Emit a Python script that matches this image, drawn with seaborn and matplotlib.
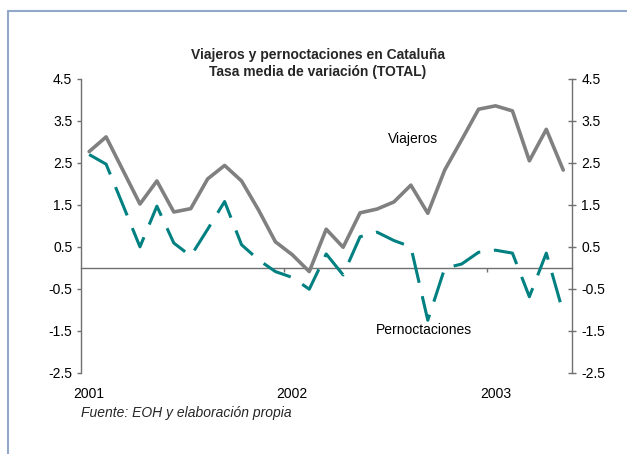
import numpy as np
import pandas as pd
import matplotlib
matplotlib.use("Agg")
import matplotlib.pyplot as plt
from matplotlib.lines import Line2D
import seaborn as sns

# ---- data (monthly, Jan 2001 .. May 2003) ----
months = [str(p) for p in pd.period_range("2001-01", "2003-05", freq="M")]
viajeros = [2.77, 3.12, 2.32, 1.52, 2.07, 1.33, 1.41, 2.12, 2.44, 2.07, 1.38, 0.62,
            0.31, -0.09, 0.92, 0.49, 1.31, 1.40, 1.57, 1.97, 1.30, 2.33, 3.05, 3.78,
            3.86, 3.74, 2.55, 3.30, 2.33]
pernoctaciones = [2.70, 2.47, 1.49, 0.50, 1.47, 0.59, 0.28, 0.92, 1.58, 0.55, 0.19, -0.09,
                  -0.23, -0.51, 0.33, -0.17, 0.74, 0.85, 0.65, 0.50, -1.25, -0.01, 0.09, 0.37,
                  0.42, 0.35, -0.69, 0.35, -1.07]
year_labels = ["2001", "2002", "2003"]
yticks = [-2.5, -1.5, -0.5, 0.5, 1.5, 2.5, 3.5, 4.5]
title = "Viajeros y pernoctaciones en Cataluña\nTasa media de variación (TOTAL)"
source = "Fuente: EOH y elaboración propia"

df = pd.DataFrame({"month": months, "pos": np.arange(len(months)),
                   "Viajeros": viajeros, "Pernoctaciones": pernoctaciones})

sns.set_theme(style="white")
plt.rcParams["font.family"] = ["Liberation Sans", "DejaVu Sans"]
FS = 10

W, H = 627, 454
fig = plt.figure(figsize=(W / 100, H / 100), dpi=100)
fig.patch.set_facecolor("white")

ax = fig.add_axes([80.7 / W, 1 - 372.7 / H, (571.7 - 80.7) / W, (372.7 - 79) / H])
ax.set_facecolor("white")

GRAY = "#808080"
TEAL = "#008080"
AXC = "#707070"

sns.lineplot(data=df, x="pos", y="Viajeros", ax=ax, color=GRAY, lw=2.6)
sns.lineplot(data=df, x="pos", y="Pernoctaciones", ax=ax, color=TEAL, lw=2.2,
             dashes=False)
ax.lines[-1].set_dashes((10, 4.5))

ymin, ymax = -2.5, 4.5
ax.set_xlim(-0.5, len(months) - 0.5)
ax.set_ylim(ymin, ymax)
ax.set_xlabel("")
ax.set_ylabel("")

# left axis
ax.set_yticks(yticks)
ax.set_yticklabels([f"{v:.1f}" for v in yticks], fontsize=FS, color="#000000")
ax.tick_params(axis="y", direction="out", length=3, width=1, color=AXC, pad=3, left=True)
for s in ["top", "right", "bottom"]:
    ax.spines[s].set_visible(False)
ax.spines["left"].set_color(AXC)
ax.spines["left"].set_linewidth(1)

# year labels at January points
jan_idx = [months.index(y + "-01") for y in year_labels]
ax.set_xticks(jan_idx)
ax.set_xticklabels(year_labels, fontsize=FS, color="#000000")
ax.tick_params(axis="x", length=0, pad=10, bottom=True)

# zero line as a secondary axis at y=0
frac0 = (0 - ymin) / (ymax - ymin)
sec = ax.secondary_xaxis(frac0)
sec.spines["bottom"].set_color(AXC)
sec.spines["bottom"].set_linewidth(1)
sec.set_xticks([j - 0.5 for j in jan_idx[1:]])
sec.set_xticklabels([])
sec.tick_params(axis="x", direction="out", length=3, width=1, color=AXC)

# right axis
ax2 = ax.twinx()
ax2.set_ylim(ymin, ymax)
ax2.set_yticks(yticks)
ax2.set_yticklabels([f"{v:.1f}" for v in yticks], fontsize=FS, color="#000000")
ax2.tick_params(axis="y", direction="inout", length=6, width=1, color=AXC, pad=4, right=True)
for s in ["top", "left", "bottom"]:
    ax2.spines[s].set_visible(False)
ax2.spines["right"].set_color(AXC)
ax2.spines["right"].set_linewidth(1)
ax2.grid(False)
ax.grid(False)

# series labels
ax.text(19.1, 3.06, "Viajeros", fontsize=FS, ha="center", va="center", color="#000000")
ax.text(19.76, -1.48, "Pernoctaciones", fontsize=FS, ha="center", va="center", color="#000000")

# title and source
fig.text(318 / W, 1 - 63.3 / H, title, fontsize=FS, fontweight="bold", ha="center",
         va="center", linespacing=1.25)
fig.text(80.7 / W, 1 - 413.3 / H, source, fontsize=FS, style="italic", ha="left", va="center")

# frame border (top & left visible)
BC = "#93a8c8"
fig.add_artist(Line2D([8 / W, 1.0], [1 - 11 / H, 1 - 11 / H], transform=fig.transFigure,
                      color=BC, lw=1.5))
fig.add_artist(Line2D([8 / W, 8 / W], [0.0, 1 - 11 / H], transform=fig.transFigure,
                      color=BC, lw=1.5))

fig.savefig("out.png", dpi=100)
